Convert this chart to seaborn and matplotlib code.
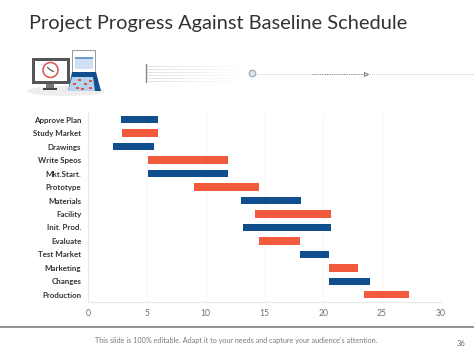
import seaborn as sns
import matplotlib
matplotlib.use('Agg')
import matplotlib.pyplot as plt
import matplotlib.patches as mpatches
import numpy as np

# Task names
tasks = [
    'Approve Plan', 'Study Market', 'Drawings', 'Write Speos', 'Mkt.Start.',
    'Prototype', 'Materials', 'Facility', 'Init. Prod.', 'Evaluate',
    'Test Market', 'Marketing', 'Changes', 'Production'
]

# Start and end of every task
starts = [2.8, 2.9, 2.1, 5.1, 5.1, 9.0, 13.0, 14.2, 13.2, 14.5, 18.0, 20.5, 20.5, 23.5]
ends = [5.95, 5.95, 5.6, 11.9, 11.9, 14.5, 18.1, 20.65, 20.65, 18.0, 20.5, 23.0, 24.0, 27.3]

# Which bars are blue (b) and which are orange (o)
groups = ['b', 'o', 'b', 'o', 'b', 'o', 'b', 'o', 'b', 'o', 'b', 'o', 'b', 'o']
group_colors = {'b': '#114E8E', 'o': '#F15A3C'}

x_ticks = [0, 5, 10, 15, 20, 25, 30]

title = 'Project Progress Against Baseline Schedule'
footer = "This slide is 100% editable. Adapt it to your needs and capture your audience's attention."
page = '36'

W, H = 474, 355

sns.set_theme(style='white')
plt.rcParams['font.family'] = ['Lato', 'DejaVu Sans']

fig = plt.figure(figsize=(W / 100, H / 100), dpi=100)

# Full figure layer in pixel coordinates, for the slide furniture
bg = fig.add_axes([0, 0, 1, 1])
bg.set_xlim(0, W)
bg.set_ylim(H, 0)
bg.axis('off')

bg.text(29, 24, title, fontsize=14.4, color='#333333', va='center', ha='left')

# Footer
bg.plot([0, W], [327, 327], color='#808080', lw=1.2)
bg.text(236.5, 340, footer, fontsize=5.2, color='#7a7a7a', ha='center', va='center')
bg.text(461, 343, page, fontsize=5.5, color='#666666', ha='center', va='center')

# Icon: shadow, monitor, clock
bg.add_patch(mpatches.Ellipse((66, 91), 78, 10, color='#ededed', lw=0))
bg.add_patch(mpatches.Rectangle((32, 58), 38, 26, color='#555555', lw=0))
bg.add_patch(mpatches.Rectangle((35, 61), 32, 20, color='white', lw=0))
bg.add_patch(mpatches.Rectangle((46, 84), 8, 4, color='#777777', lw=0))
bg.add_patch(mpatches.Rectangle((43, 88), 14, 1.5, color='#444444', lw=0))
bg.add_patch(mpatches.Circle((50.5, 70), 7.5, fc='white', ec='#d9534f', lw=1.1))
bg.plot([47.5, 50.5, 53.5], [67.5, 70, 71.5], color='#444444', lw=0.8)

# Icon: document and calendar
bg.add_patch(mpatches.Rectangle((72, 50), 23, 34, fc='white', ec='#8a8a8a', lw=0.6))
bg.add_patch(mpatches.Rectangle((75, 57), 18, 12, color='#cfe0f2', lw=0))
bg.add_patch(mpatches.Rectangle((75, 57), 18, 1.5, color='#6b9bd1', lw=0))
bg.add_patch(mpatches.Polygon([[72, 72], [96, 72], [101, 91], [68, 91]], color='#114E8E', lw=0))
bg.add_patch(mpatches.Polygon([[72, 77], [93, 77], [95, 91], [68, 91]], color='#b5d3ee', lw=0))
for cx, cy in [(73, 83), (78, 79), (84, 83), (89, 80), (76, 87), (81, 88), (89, 87)]:
    bg.add_patch(mpatches.Rectangle((cx, cy), 3.5, 2, color='#d9534f', lw=0))

# Fading lines, ring and dotted line
bg.plot([146, 146], [64, 82], color='#888888', lw=1)
for ly in [66, 69, 72, 75, 78, 81]:
    for seg in range(9):
        bg.plot([147 + seg * 10, 157 + seg * 10], [ly, ly], color='#999999', lw=0.5,
                alpha=0.4 * (1 - seg / 9), solid_capstyle='butt')
bg.add_patch(mpatches.Circle((252.5, 73.5), 3.2, fc='#dfe6ea', ec='#9fb2be', lw=1))
bg.plot([257, W], [73.5, 73.5], color='#b5b5b5', lw=0.6, ls=(0, (1, 1.5)))
bg.plot([312, 364], [73.5, 73.5], color='#808080', lw=0.7, ls=(0, (1, 1.5)))
bg.plot([366], [73.5], marker='>', ms=3, mfc='#dddddd', mec='#777777', mew=0.6)

# Gantt chart, plot area placed to match the slide
left, right, top, bottom = 88.3, 440.7, 113, 301.5
ax = fig.add_axes([left / W, 1 - bottom / H, (right - left) / W, (bottom - top) / H])
ax.patch.set_alpha(0)

starts_arr = np.array(starts)
durations = np.array(ends) - starts_arr
barplot = sns.barplot(x=durations, y=tasks, left=starts_arr, orient='h', width=0.55,
                      color=group_colors['b'], saturation=1, ax=ax)

# Colour each bar by its group
for bar, g in zip(barplot.patches, groups):
    bar.set_facecolor(group_colors[g])
    bar.set_edgecolor('none')

ax.set_xlim(0, 30)
ax.set_xticks(x_ticks)
ax.set_xlabel('')
ax.set_ylabel('')
ax.grid(True, axis='x', color='#f3f3f3', lw=0.6)
ax.set_axisbelow(True)
ax.tick_params(axis='x', length=0, labelsize=6.2, labelcolor='#707070', pad=5.5)
ax.tick_params(axis='y', length=0, labelsize=5.7, labelcolor='#333333', pad=5)
for lab in ax.get_yticklabels():
    lab.set_fontweight('bold')
sns.despine(ax=ax, top=True, right=True)
for side in ['left', 'bottom']:
    ax.spines[side].set_color('#e8e8e8')
    ax.spines[side].set_linewidth(0.8)

plt.savefig('out.png', dpi=100)
